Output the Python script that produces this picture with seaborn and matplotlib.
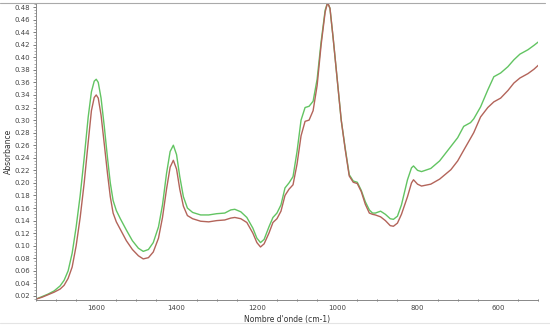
import numpy as np
import pandas as pd
import matplotlib
matplotlib.use("Agg")
import matplotlib.pyplot as plt
from matplotlib.lines import Line2D
from matplotlib.ticker import MultipleLocator
import seaborn as sns

# Wavenumber (cm-1) and absorbance of the two spectra
wavenumber = [1750, 1735, 1720, 1705, 1690, 1680, 1670, 1660, 1650, 1640, 1630, 1620,
              1612, 1605, 1600, 1595, 1588, 1580, 1572, 1565, 1558, 1550, 1540, 1525,
              1510, 1495, 1483, 1470, 1458, 1445, 1435, 1425, 1416, 1408, 1400, 1392,
              1383, 1373, 1360, 1340, 1320, 1300, 1280, 1265, 1255, 1240, 1225, 1210,
              1200, 1191, 1182, 1170, 1160, 1150, 1140, 1130, 1120, 1110, 1100, 1090,
              1080, 1070, 1060, 1050, 1040, 1030, 1024, 1018, 1010, 1000, 990, 980,
              970, 960, 950, 940, 930, 920, 912, 905, 892, 880, 868, 860, 850, 840,
              825, 815, 810, 800, 790, 767, 745, 717, 700, 685, 668, 660, 643, 625,
              610, 593, 575, 560, 545, 525, 510, 498]

green = [0.015, 0.019, 0.023, 0.028, 0.036, 0.045, 0.060, 0.088, 0.130, 0.180, 0.240, 0.305,
         0.345, 0.362, 0.365, 0.360, 0.335, 0.290, 0.240, 0.200, 0.172, 0.156, 0.143, 0.125,
         0.108, 0.096, 0.091, 0.094, 0.105, 0.130, 0.165, 0.215, 0.250, 0.260, 0.245, 0.210,
         0.178, 0.160, 0.153, 0.149, 0.149, 0.151, 0.152, 0.157, 0.158, 0.154, 0.145, 0.128,
         0.112, 0.105, 0.110, 0.130, 0.145, 0.152, 0.165, 0.192, 0.200, 0.210, 0.250, 0.300,
         0.320, 0.322, 0.330, 0.365, 0.425, 0.475, 0.487, 0.478, 0.430, 0.365, 0.300, 0.255,
         0.213, 0.203, 0.201, 0.188, 0.170, 0.157, 0.152, 0.152, 0.155, 0.150, 0.143, 0.142,
         0.147, 0.165, 0.205, 0.224, 0.227, 0.220, 0.218, 0.223, 0.235, 0.258, 0.272, 0.290,
         0.296, 0.302, 0.321, 0.348, 0.369, 0.375, 0.385, 0.396, 0.405, 0.412, 0.419, 0.425]

red = [0.015, 0.018, 0.022, 0.026, 0.031, 0.037, 0.048, 0.066, 0.100, 0.145, 0.200, 0.265,
       0.315, 0.336, 0.340, 0.335, 0.308, 0.262, 0.215, 0.178, 0.152, 0.138, 0.126, 0.108,
       0.094, 0.084, 0.079, 0.081, 0.090, 0.112, 0.145, 0.190, 0.225, 0.236, 0.222, 0.190,
       0.163, 0.148, 0.143, 0.139, 0.138, 0.140, 0.141, 0.144, 0.145, 0.143, 0.137, 0.120,
       0.105, 0.098, 0.103, 0.120, 0.137, 0.143, 0.155, 0.180, 0.190, 0.197, 0.230, 0.275,
       0.298, 0.300, 0.315, 0.355, 0.420, 0.472, 0.487, 0.478, 0.430, 0.365, 0.300, 0.253,
       0.211, 0.201, 0.199, 0.186, 0.166, 0.152, 0.150, 0.149, 0.146, 0.140, 0.132, 0.131,
       0.136, 0.150, 0.178, 0.200, 0.205, 0.198, 0.195, 0.198, 0.206, 0.221, 0.235, 0.252,
       0.271, 0.280, 0.305, 0.320, 0.329, 0.335, 0.347, 0.359, 0.367, 0.374, 0.381, 0.388]

series_names = ["Echantillon 1", "Echantillon 2"]
x_ticks = [1600, 1400, 1200, 1000, 800, 600]
y_ticks = [round(0.02 * i, 2) for i in range(1, 25)]

df = pd.DataFrame({
    "wn": wavenumber * 2,
    "abs": green + red,
    "serie": [series_names[0]] * len(green) + [series_names[1]] * len(red),
})

sns.set_theme(style="white")
plt.rcParams["font.family"] = ["DejaVu Sans"]

fig = plt.figure(figsize=(5.5, 3.25), dpi=100)
ax = fig.add_axes([36 / 550, 1 - 300 / 325, (538 - 36) / 550, (300 - 3) / 325])

sns.lineplot(data=df, x="wn", y="abs", hue="serie", sort=False,
             palette=["#62c462", "#b3645a"], linewidth=1.0, ax=ax, legend=False)

ax.set_xlim(1750, 500)
ax.set_ylim(0.0136, 0.4864)
ax.set_xticks(x_ticks)
ax.set_xticklabels([str(t) for t in x_ticks])
ax.xaxis.set_minor_locator(MultipleLocator(50))
ax.set_yticks(y_ticks)
ax.set_yticklabels([f"{t:.2f}" for t in y_ticks])
ax.yaxis.set_minor_locator(MultipleLocator(0.005))

ax.tick_params(axis="x", which="major", direction="inout", length=3, width=0.6,
               color="#666666", labelsize=5, pad=2, labelcolor="#444444")
ax.tick_params(axis="x", which="minor", direction="inout", length=2, width=0.6,
               color="#666666", bottom=True)
ax.tick_params(axis="y", which="major", direction="out", length=2.5, width=0.6,
               color="#666666", labelsize=5, pad=1.5, labelcolor="#444444", left=True)
ax.tick_params(axis="y", which="minor", direction="out", length=1.2, width=0.5,
               color="#888888", left=True)

for side in ["top", "right"]:
    ax.spines[side].set_visible(False)
for side in ["left", "bottom"]:
    ax.spines[side].set_color("#888888")
    ax.spines[side].set_linewidth(0.7)

ax.set_xlabel("Nombre d'onde (cm-1)", fontsize=5.5, color="#333333", labelpad=3)
ax.set_ylabel("Absorbance", fontsize=5.5, color="#333333", labelpad=3)
ax.yaxis.set_label_coords(-0.045, 0.5)

fig.add_artist(Line2D([0, 545 / 550], [1 - 3 / 325, 1 - 3 / 325],
                      transform=fig.transFigure, color="#aaaaaa", linewidth=0.8))
fig.add_artist(Line2D([0, 1], [1 - 323 / 325, 1 - 323 / 325],
                      transform=fig.transFigure, color="#e4e4e4", linewidth=0.8))

fig.savefig("out.png", dpi=100, facecolor="white")
